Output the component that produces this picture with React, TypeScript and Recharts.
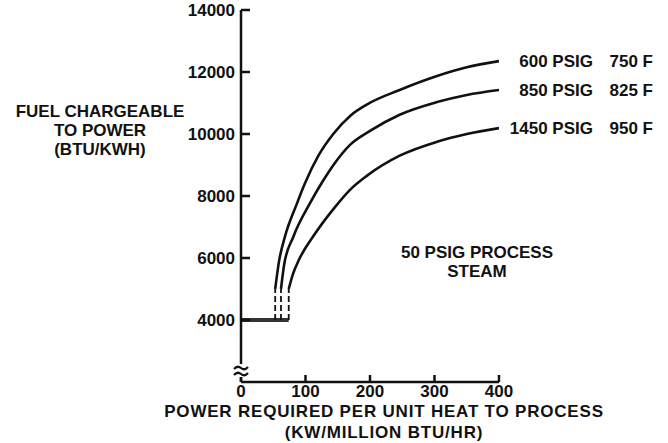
import React from 'react';
import { LineChart, Line, XAxis, YAxis } from 'recharts';

// axis ticks
const xTicks = [0, 100, 200, 300, 400];
const yTicks = [2000, 4000, 6000, 8000, 10000, 12000, 14000];

// series labels (pressure / temperature)
const pressureLabels = ['600 PSIG', '850 PSIG', '1450 PSIG'];
const tempLabels = ['750 F', '825 F', '950 F'];

// fuel chargeable to power curves
const x600 = [53, 59, 68, 87, 99, 120, 143, 170, 195, 246, 304, 350, 400];
const y600 = [5000, 5900, 6680, 7770, 8400, 9300, 10000, 10600, 10950, 11420, 11870, 12150, 12350];

const x850 = [62, 67, 81, 107, 126, 145, 169, 200, 246, 304, 350, 400];
const y850 = [5000, 5800, 6680, 7770, 8450, 9050, 9650, 10100, 10620, 11030, 11260, 11420];

const x1450 = [74, 80, 90, 112, 146, 169, 195, 246, 304, 350, 400];
const y1450 = [5000, 5450, 5950, 6700, 7650, 8200, 8650, 9300, 9750, 10000, 10190];

// flat portion below the curves
const baseFuel = 4000;

const FONT = '"Liberation Sans", Arial, sans-serif';
const INK = '#111';
// recharts places tick content at tickSize + tickMargin from the axis line
const TICK_SIZE = 6;
const TICK_MARGIN = 2;
const OFF = TICK_SIZE + TICK_MARGIN;

const toPoints = (xs: number[], ys: number[]) => xs.map((x, i) => ({ x, y: ys[i] }));

const curves = [toPoints(x600, y600), toPoints(x850, y850), toPoints(x1450, y1450)];

const baseLine = [
  { x: 0, y: baseFuel },
  { x: Math.max(x600[0], x850[0], x1450[0]), y: baseFuel },
];

const dashedLinks = curves.map((c) => [
  { x: c[0].x, y: baseFuel },
  { x: c[0].x, y: c[0].y },
]);

const YTick = (props: any) => {
  const { y, payload } = props;
  const x = props.x + OFF;
  if (payload.value === yTicks[0]) {
    // axis break symbol
    return (
      <g>
        <rect x={x - 3} y={y - 18} width={6} height={13} fill="#fff" />
        <path d={`M${x - 7},${y - 13} q3.5,-4 7,-1 q3.5,3 7,-1`} fill="none" stroke={INK} strokeWidth={2.2} />
        <path d={`M${x - 7},${y - 7} q3.5,-4 7,-1 q3.5,3 7,-1`} fill="none" stroke={INK} strokeWidth={2.2} />
      </g>
    );
  }
  return (
    <g>
      <line x1={x} x2={x + 9} y1={y} y2={y} stroke={INK} strokeWidth={2.5} />
      <text x={x - 6} y={y} dy={6} textAnchor="end" fontFamily={FONT} fontWeight="bold" fontSize={17} fill={INK}>
        {payload.value}
      </text>
    </g>
  );
};

const XTick = (props: any) => {
  const { x, payload } = props;
  const y = props.y - OFF;
  return (
    <g>
      <line x1={x} x2={x} y1={y} y2={y - 7} stroke={INK} strokeWidth={2.5} />
      <text x={x} y={y} dy={15} textAnchor="middle" fontFamily={FONT} fontWeight="bold" fontSize={17} fill={INK}>
        {payload.value}
      </text>
    </g>
  );
};

const endLabel = (i: number, n: number) => (p: any) => {
  if (p.index !== n - 1) return null;
  return (
    <g fontFamily={FONT} fontWeight="bold" fontSize={17} fill={INK}>
      <text x={p.x + 94} y={p.y} dy={6} textAnchor="end">
        {pressureLabels[i]}
      </text>
      <text x={p.x + 154} y={p.y} dy={6} textAnchor="end">
        {tempLabels[i]}
      </text>
    </g>
  );
};

const txt = { fontFamily: FONT, fontWeight: 'bold' as const, fontSize: 17, fill: INK };

export default function App() {
  return (
    <div style={{ position: 'absolute', left: 0, top: 0, background: '#fff' }}>
      <LineChart width={668} height={443} margin={{ top: 10, right: 169, bottom: 0, left: 0 }}>
        <XAxis
          type="number"
          dataKey="x"
          domain={[0, 400]}
          ticks={xTicks}
          interval={0}
          height={61}
          tickSize={TICK_SIZE}
          tickMargin={TICK_MARGIN}
          tickLine={false}
          axisLine={{ stroke: INK, strokeWidth: 2.5 }}
          tick={XTick}
          allowDataOverflow
        />
        <YAxis
          type="number"
          dataKey="y"
          domain={[2000, 14000]}
          ticks={yTicks}
          interval={0}
          width={241}
          tickSize={TICK_SIZE}
          tickMargin={TICK_MARGIN}
          tickLine={false}
          axisLine={{ stroke: INK, strokeWidth: 2.5 }}
          tick={YTick}
          allowDataOverflow
        />
        <Line data={baseLine} dataKey="y" type="linear" stroke="#333" strokeWidth={4} dot={false} isAnimationActive={false} />
        {dashedLinks.map((d, i) => (
          <Line
            key={'d' + i}
            data={d}
            dataKey="y"
            type="linear"
            stroke={INK}
            strokeWidth={1.8}
            strokeDasharray="6 3"
            dot={false}
            isAnimationActive={false}
          />
        ))}
        {curves.map((c, i) => (
          <Line
            key={'c' + i}
            data={c}
            dataKey="y"
            type="monotone"
            stroke={INK}
            strokeWidth={2.6}
            dot={false}
            label={endLabel(i, c.length)}
            isAnimationActive={false}
          />
        ))}
        <g>
          <text x={100} y={117} textAnchor="middle" {...txt}>FUEL CHARGEABLE</text>
          <text x={100} y={136} textAnchor="middle" {...txt}>TO POWER</text>
          <text x={100} y={155} textAnchor="middle" {...txt}>(BTU/KWH)</text>
          <text x={384} y={417} textAnchor="middle" letterSpacing={0.8} {...txt}>
            POWER REQUIRED PER UNIT HEAT TO PROCESS
          </text>
          <text x={384} y={438} textAnchor="middle" letterSpacing={0.8} {...txt}>
            (KW/MILLION BTU/HR)
          </text>
          <text x={477} y={258} textAnchor="middle" {...txt}>50 PSIG PROCESS</text>
          <text x={477} y={277} textAnchor="middle" {...txt}>STEAM</text>
        </g>
      </LineChart>
    </div>
  );
}
